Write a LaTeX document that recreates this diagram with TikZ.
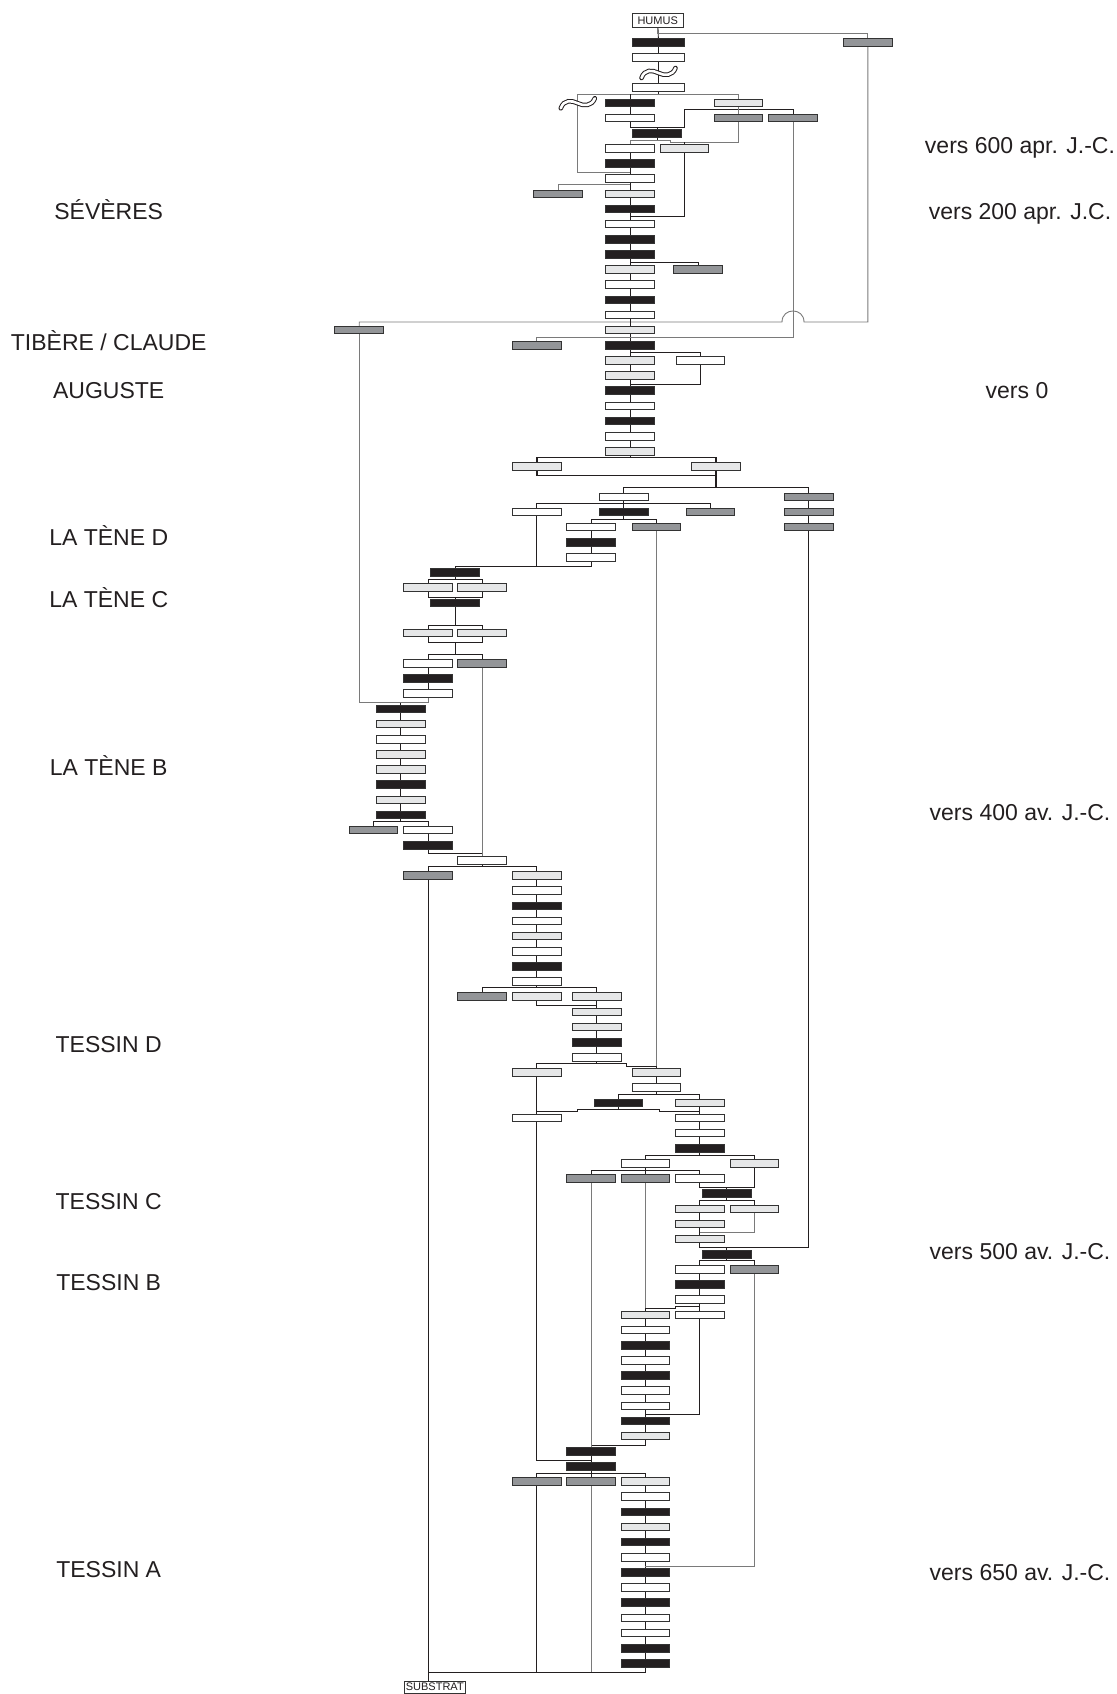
\documentclass[tikz,border=0pt]{standalone}
\usepackage{fontspec}
\setmainfont{Liberation Sans}
\usetikzlibrary{backgrounds}
\definecolor{cK}{HTML}{231F20}
\definecolor{cL}{HTML}{E6E7E8}
\definecolor{cD}{HTML}{939598}
\definecolor{cLine}{HTML}{231F20}
\definecolor{cGray}{HTML}{7A7A7A}
\newcommand\bx[4]{\node[bx,fill=#4] (#1) at (#2,{42.3+15.15*(#3)}) {};}
\newcommand\bxw[4]{\node[bx,minimum width=51.6pt,fill=#4] (#1) at (#2,{42.3+15.15*(#3)}) {};}
\newcommand\tld[2]{%
  \begin{scope}[shift={(#1,#2)}]
    \draw[line width=4.6pt, cK, line cap=round] (-17,5) .. controls (-14,-4) and (-6,-3) .. (0,0) .. controls (6,3) and (14,3) .. (17,-5);
    \draw[line width=2.6pt, white, line cap=round] (-17,5) .. controls (-14,-4) and (-6,-3) .. (0,0) .. controls (6,3) and (14,3) .. (17,-5);
  \end{scope}}
\tikzset{
  bx/.style={draw=black!80, line width=1pt, minimum width=48.6pt, minimum height=7.6pt, inner sep=0pt, outer sep=0pt},
  lk/.style={draw=cLine, line width=0.9pt},
  lg/.style={draw=cGray, line width=0.9pt},
  lb/.style={draw=cLine, line width=1.4pt},
  lab/.style={font=\fontsize{23}{27}\selectfont, text=cK, anchor=base, inner sep=0pt},
  tag/.style={draw=black!80, line width=0.7pt, font=\fontsize{11}{13}\selectfont, inner sep=0pt, text=cK, fill=white}
}
\begin{document}
\begin{tikzpicture}[x=1pt,y=-1pt]
\useasboundingbox (0,0) rectangle (1116,1694);
\begin{pgfonlayer}{background}
\fill[white] (0,0) rectangle (1116,1694);
\end{pgfonlayer}

% ---------- labels ----------
\node[lab] (lSev) at (108.7,219.8) {SÉVÈRES};
\node[lab] (lTib) at (108.7,350.5) {TIBÈRE / CLAUDE};
\node[lab] (lAug) at (108.7,398) {AUGUSTE};
\node[lab] (lLTD) at (108.7,545) {LA TÈNE D};
\node[lab] (lLTC) at (108.7,607.6) {LA TÈNE C};
\node[lab] (lLTB) at (108.7,775.1) {LA TÈNE B};
\node[lab] (lTD) at (108.7,1052.7) {TESSIN D};
\node[lab] (lTC) at (108.7,1209.4) {TESSIN C};
\node[lab] (lTB) at (108.7,1290.4) {TESSIN B};
\node[lab] (lTA) at (108.7,1577.8) {TESSIN A};
\node[lab] (d600) at (1020,153.9) {vers 600 apr. J.-C.};
\node[lab] (d200) at (1020,219.8) {vers 200 apr. J.C.};
\node[lab] (d0) at (1017,398) {vers 0};
\node[lab] (d400) at (1020,820.5) {vers 400 av. J.-C.};
\node[lab] (d500) at (1020,1259.1) {vers 500 av. J.-C.};
\node[lab] (d650) at (1020,1580) {vers 650 av. J.-C.};

% ---------- boxes ----------
\node[tag, minimum width=51pt, minimum height=13.2pt] (humus) at (657.7,20.3) {HUMUS};
\node[tag, minimum width=61.5pt, minimum height=11.8pt] (substrat) at (434.8,1687) {SUBSTRAT};

\bxw{r0a}{658.5}{0}{cK}
\bx{r0b}{867.8}{0}{cD}
\bxw{r1a}{658.5}{1}{white}
\bxw{r3a}{658.5}{3}{white}
\bx{r4a}{630}{4}{cK}
\bx{r4b}{738.6}{4}{cL}
\bx{r5a}{630}{5}{white}
\bx{r5b}{738.6}{5}{cD}
\bx{r5c}{793}{5}{cD}
\bx{r6a}{657}{6}{cK}
\bx{r7a}{630}{7}{white}
\bx{r7b}{684.5}{7}{cL}
\bx{r8a}{630}{8}{cK}
\bx{r9a}{630}{9}{white}
\bx{r10a}{558.2}{10}{cD}
\bx{r10b}{630}{10}{cL}
\bx{r11a}{630}{11}{cK}
\bx{r12a}{630}{12}{white}
\bx{r13a}{630}{13}{cK}
\bx{r14a}{630}{14}{cK}
\bx{r15a}{630}{15}{cL}
\bx{r15b}{698}{15}{cD}
\bx{r16a}{630}{16}{white}
\bx{r17a}{630}{17}{cK}
\bx{r18a}{630}{18}{white}
\bx{r19a}{359.2}{19}{cD}
\bx{r19b}{630}{19}{cL}
\bx{r20a}{536.8}{20}{cD}
\bx{r20b}{630}{20}{cK}
\bx{r21a}{630}{21}{cL}
\bx{r21b}{700.6}{21}{white}
\bx{r22a}{630}{22}{cL}
\bx{r23a}{630}{23}{cK}
\bx{r24a}{630}{24}{white}
\bx{r25a}{630}{25}{cK}
\bx{r26a}{630}{26}{white}
\bx{r27a}{630}{27}{cL}
\bx{r28a}{536.8}{28}{cL}
\bx{r28b}{716}{28}{cL}
\bx{r30a}{623.7}{30}{white}
\bx{r30b}{808.8}{30}{cD}
\bx{r31a}{536.8}{31}{white}
\bx{r31b}{623.7}{31}{cK}
\bx{r31c}{710.6}{31}{cD}
\bx{r31d}{808.8}{31}{cD}
\bx{r32a}{591.1}{32}{white}
\bx{r32b}{656.3}{32}{cD}
\bx{r32c}{808.8}{32}{cD}
\bx{r33a}{591.1}{33}{cK}
\bx{r34a}{591.1}{34}{white}
\bx{r35a}{455}{35}{cK}
\bx{r36a}{428}{36}{cL}
\bx{r36b}{482.2}{36}{cL}
\bx{r37a}{455}{37}{cK}
\bx{r39a}{428}{39}{cL}
\bx{r39b}{482.2}{39}{cL}
\bx{r41a}{428}{41}{white}
\bx{r41b}{482.2}{41}{cD}
\bx{r42a}{428}{42}{cK}
\bx{r43a}{428}{43}{white}
\foreach \ri/\st in {44/cK,45/cL,46/white,47/cL,48/cL,49/cK,50/cL,51/cK} {\bx{r\ri a}{400.7}{\ri}{\st}}
\bx{r52a}{373.6}{52}{cD}
\bx{r52b}{428}{52}{white}
\bx{r53a}{428}{53}{cK}
\bx{r54a}{482.2}{54}{white}
\bx{r55a}{428}{55}{cD}
\bx{r55b}{536.8}{55}{cL}
\foreach \ri/\st in {56/white,57/cK,58/white,59/cL,60/white,61/cK,62/white} {\bx{r\ri a}{536.8}{\ri}{\st}}
\bx{r63a}{482.2}{63}{cD}
\bx{r63b}{536.8}{63}{cL}
\bx{r63c}{596.7}{63}{cL}
\foreach \ri/\st in {64/cL,65/cL,66/cK,67/white} {\bx{r\ri a}{596.7}{\ri}{\st}}
\bx{r68a}{536.8}{68}{cL}
\bx{r68b}{656.3}{68}{cL}
\bx{r69a}{656.3}{69}{white}
\bx{r70a}{618.3}{70}{cK}
\bx{r70b}{699.8}{70}{cL}
\bx{r71a}{536.8}{71}{white}
\bx{r71b}{699.8}{71}{white}
\bx{r72a}{699.8}{72}{white}
\bx{r73a}{699.8}{73}{cK}
\bx{r74a}{645.3}{74}{white}
\bx{r74b}{754.3}{74}{cL}
\bx{r75a}{591.1}{75}{cD}
\bx{r75b}{645.3}{75}{cD}
\bx{r75c}{699.8}{75}{white}
\bx{r76a}{726.9}{76}{cK}
\bx{r77a}{699.8}{77}{cL}
\bx{r77b}{754.3}{77}{cL}
\bx{r78a}{699.8}{78}{cL}
\bx{r79a}{699.8}{79}{cL}
\bx{r80a}{726.9}{80}{cK}
\bx{r81a}{699.8}{81}{white}
\bx{r81b}{754.3}{81}{cD}
\bx{r82a}{699.8}{82}{cK}
\bx{r83a}{699.8}{83}{white}
\bx{r84a}{645.3}{84}{cL}
\bx{r84b}{699.8}{84}{white}
\foreach \ri/\st in {85/white,86/cK,87/white,88/cK,89/white,90/white,91/cK,92/cL} {\bx{r\ri a}{645.3}{\ri}{\st}}
\bx{r93a}{591.1}{93}{cK}
\bx{r94a}{591.1}{94}{cK}
\bx{r95a}{536.8}{95}{cD}
\bx{r95b}{591.1}{95}{cD}
\bx{r95c}{645.3}{95}{cL}
\foreach \ri/\st in {96/white,97/cK,98/cL,99/cK,100/white,101/cK,102/white,103/cK,104/white,105/white,106/cK,107/cK} {\bx{r\ri a}{645.3}{\ri}{\st}}

% ---------- connectors ----------
\begin{pgfonlayer}{background}
\draw[lk] (humus) -- (r0a) -- (r1a) -- (r3a);
\draw[lg] (humus) |- (867.8,33.7) -- (r0b);
\draw[lg] (r0b) -- (867.8,322) -- (804,322) .. controls (804,307.3) and (782,307.3) .. (782,322) -- (359.2,322) -- (r19a);
\draw[lk] (r3a) -- (658.5,94.3);
\draw[lg] (r4b) |- (577.8,94.3) -- (577.8,172.3) -| (r9a);
\draw[lk] (r4a) -- (630,94.3);
\draw[lk] (r4a) -- (r5a);
\draw[lk] (r5a) |- (684.5,127.7) |- (793,109.3) -- (r5c);
\draw[lg] (r4b) -- (r5b);
\draw[lk] (r6a) -- (657,127.7);
\draw[lk] (r6a) -- (657,140);
\draw[lg] (r5b) |- (670.3,142.3) -- (670.3,140) -| (r7a);
\draw[lk] (r7b) -- (684.5,142.3);
\draw[lk] (r7b) |- (630,216);
\draw[lk] (r7a) -- (r27a);
\draw[lg] (r10a) |- (630,184.7);
\draw[lk] (r15b) |- (630,262);
\draw[lg] (r5c) |- (536.8,337.7) -- (r20a);
\draw[lk] (630,352.3) -| (r21b) |- (630,384);
\draw[lk] (r27a) -- (630,457.7);
\draw[lb] (r28a) |- (716,457.7) -- (r28b);
\draw[lb] (r28a) |- (716,475.7) -- (r28b);
\draw[lb] (716,475.7) -- (716,487.7);
\draw[lk] (r30a) |- (808.8,487.7) -- (r30b);
\draw[lk] (r30a) -- (r31b);
\draw[lk] (r31a) |- (710.6,503.3) -- (r31c);
\draw[lk] (r30b) -- (r31d) -- (r32c);
\draw[lk] (r31b) -- (623.7,519);
\draw[lk] (r32a) |- (656.3,519) -- (r32b);
\draw[lk] (r32a) -- (r33a) -- (r34a);
\draw[lg] (r32b) -- (r68b);
\draw[lk] (r31a) |- (455,566) -- (r35a);
\draw[lk] (r34a) |- (536.8,566);
\draw[lk] (r35a) -- (455,579.3);
\draw[lk] (r36a) |- (482.2,579.3) -- (r36b);
\draw[lk] (r36a) |- (482.2,597.3) -- (r36b);
\draw[lk] (455,597.3) -- (r37a);
\draw[lk] (r37a) -- (455,625);
\draw[lk] (r39a) |- (482.2,625) -- (r39b);
\draw[lk] (r39a) |- (482.2,642.3) -- (r39b);
\draw[lk] (455,642.3) -- (455,654.3);
\draw[lk] (r41a) |- (482.2,654.3) -- (r41b);
\draw[lk] (r41a) -- (r42a) -- (r43a);
\draw[lg] (r19a) |- (428,702.7) -- (r43a);
\draw[lk] (r44a) -- (400.7,702.7);
\draw[lk] (r44a) -- (r51a);
\draw[lk] (r51a) -- (400.7,821.7);
\draw[lk] (r52a) |- (428,821.7) -- (r52b);
\draw[lk] (r52b) -- (r53a);
\draw[lk] (r53a) |- (482.2,853.3);
\draw[lg] (r41b) -- (r54a);
\draw[lk] (r54a) -- (482.2,866.7);
\draw[lk] (r55a) |- (536.8,866.7) -- (r55b);
\draw[lk] (r55b) -- (r62a);
\draw[lk] (r62a) -- (536.8,987.7);
\draw[lk] (r63a) |- (596.7,987.7) -- (r63c);
\draw[lk] (r63b) |- (596.7,1005.3);
\draw[lk] (r63c) -- (r67a);
\draw[lk] (r67a) -- (596.7,1063.3);
\draw[lk] (r68a) |- (626.7,1063.3) -- (626.7,1066) -| (r68b);
\draw[lk] (r68b) -- (r69a);
\draw[lk] (r69a) -- (656.3,1094.3);
\draw[lk] (r70a) |- (699.8,1094.3) -- (r70b);
\draw[lk] (r68a) -- (r71a);
\draw[lk] (r71a) |- (577.3,1111.7) -- (577.3,1109.3) -- (659.3,1109.3) -- (659.3,1111.7) -| (r71b);
\draw[lk] (r70a) -- (618.3,1109.3);
\draw[lk] (r70b) -- (r71b) -- (r72a) -- (r73a);
\draw[lk] (r73a) -- (699.8,1155);
\draw[lk] (r74a) |- (754.3,1155) -- (r74b);
\draw[lk] (r74a) -- (r75b);
\draw[lk] (r75a) |- (699.8,1170) -- (r75c);
\draw[lk] (r75c) |- (754.3,1187.7) -- (r74b);
\draw[lk] (r76a) -- (726.9,1187.7);
\draw[lk] (r76a) -- (726.9,1200);
\draw[lk] (r77a) |- (754.3,1200) -- (r77b);
\draw[lk] (r77a) -- (r78a) -- (r79a);
\draw[lg] (r77b) |- (699.8,1232.7);
\draw[lk] (r32c) |- (699.8,1247.7) -- (r79a);
\draw[lk] (r80a) -- (726.9,1247.7);
\draw[lk] (r80a) -- (726.9,1260.7);
\draw[lk] (r81a) |- (754.3,1260.7) -- (r81b);
\draw[lk] (r81a) -- (r82a) -- (r83a) -- (r84b);
\draw[lg] (r75b) -- (r84a);
\draw[lk] (r84a) |- (675,1308.3) -- (675,1306) -- (r83a |- 0,1306);
\draw[lk] (r84b) |- (645.3,1414.3);
\draw[lk] (r84a) -- (r92a);
\draw[lk] (r92a) |- (591.1,1445);
\draw[lg] (r75a) -- (r93a);
\draw[lk] (r93a) -- (r94a) -- (r95b);
\draw[lk] (r71a) |- (591.1,1460);
\draw[lk] (r95a) |- (645.3,1473.3) -- (r95c);
\draw[lk] (r95c) -- (r107a);
\draw[lg] (r81b) |- (645.3,1566);
\draw[lk] (r55a) |- (645.3,1672.3) -- (r107a);
\draw[lk] (r95a) -- (536.8,1672.3);
\draw[lg] (r95b) -- (591.1,1672.3);
\draw[lk] (r55a) -- (r55a |- substrat.north);
\end{pgfonlayer}

% ---------- break marks ----------
\tld{658.5}{73}
\tld{577.8}{103.3}
\end{tikzpicture}
\end{document}
